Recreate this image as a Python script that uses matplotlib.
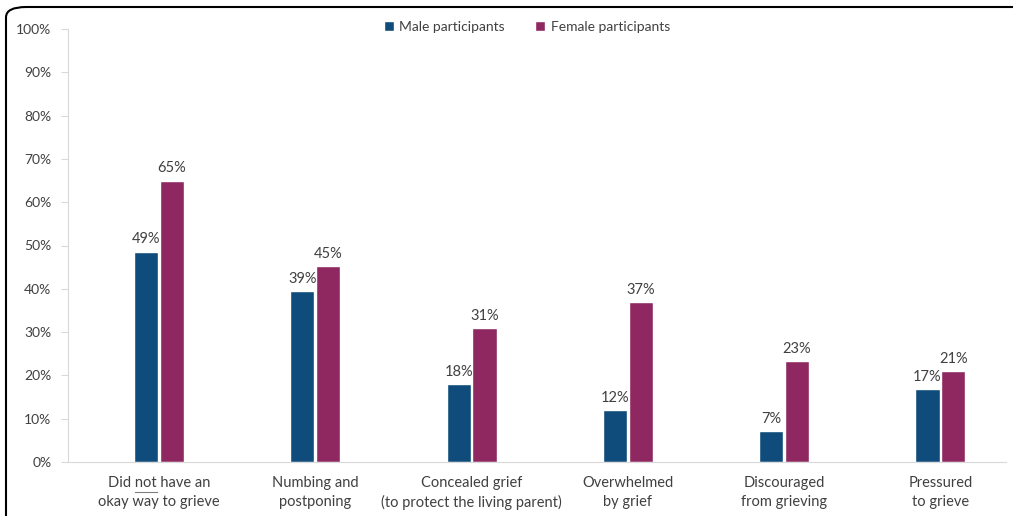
import matplotlib
matplotlib.use("Agg")
import matplotlib.pyplot as plt
import numpy as np
from matplotlib.patches import FancyBboxPatch
from matplotlib.lines import Line2D

plt.rcParams['font.family'] = ['Lato', 'DejaVu Sans']

categories = ["Did not have an\nokay way to grieve", "Numbing and\npostponing",
              "Concealed grief\n(to protect the living parent)", "Overwhelmed\nby grief",
              "Discouraged\nfrom grieving", "Pressured\nto grieve"]
male = [48.6, 39.4, 17.9, 11.9, 7.2, 16.8]
female = [65.0, 45.3, 31.0, 37.0, 23.3, 21.0]
male_labels = ["49%", "39%", "18%", "12%", "7%", "17%"]
female_labels = ["65%", "45%", "31%", "37%", "23%", "21%"]
yticks = [0, 10, 20, 30, 40, 50, 60, 70, 80, 90, 100]

blue = "#0f4c7c"
plum = "#8f2860"
txt = "#404040"
grey = "#d9d9d9"

fig = plt.figure(figsize=(10.13, 5.16), dpi=100)
ax = fig.add_axes([68/1013, 54/516, 938/1013, 433/516])

x = np.arange(len(categories))
w = 0.155
off = 0.083
b1 = ax.bar(x - off, male, w, color=blue, edgecolor="white", linewidth=1, label="Male participants")
b2 = ax.bar(x + off, female, w, color=plum, edgecolor="white", linewidth=1, label="Female participants")
for rects, labs in ((b1, male_labels), (b2, female_labels)):
    for r, l in zip(rects, labs):
        ax.text(r.get_x() + r.get_width()/2, r.get_height() + 1.2, l,
                ha="center", va="bottom", fontsize=10.5, color=txt)

ax.set_xlim(-0.583, 5.42)
ax.set_ylim(0, 100)
ax.set_yticks(yticks)
ax.set_yticklabels([f"{v}%" for v in yticks])
ax.set_xticks(x)
ax.set_xticklabels(categories, linespacing=1.45)
ax.tick_params(axis="y", colors=grey, labelcolor=txt, labelsize=10, length=5, pad=7)
ax.tick_params(axis="x", length=0, labelcolor=txt, labelsize=10.5, pad=10)
for s in ("top", "right"):
    ax.spines[s].set_visible(False)
ax.spines["left"].set_color(grey)
ax.spines["bottom"].set_color(grey)

ax.legend(loc="center", bbox_to_anchor=(527/1013, 1 - 27/516), bbox_transform=fig.transFigure,
          ncol=2, frameon=False, fontsize=10, handlelength=0.7, handleheight=0.7,
          columnspacing=2.2, handletextpad=0.4, labelcolor=txt)

# underline "not"
fig.canvas.draw()
r = fig.canvas.get_renderer()
lab = ax.get_xticklabels()[0]
bb = lab.get_window_extent(r)
def tw(s):
    t = fig.text(0, 0, s, fontsize=10.5)
    e = t.get_window_extent(r)
    t.remove()
    return e.width
line_w = tw("Did not have an")
x0 = (bb.x0 + bb.x1)/2 - line_w/2 + tw("Did ")
x1 = x0 + tw("not")
yl = bb.y1 - 16
fig.add_artist(Line2D([x0/1013, x1/1013], [yl/516, yl/516], transform=fig.transFigure,
                      color="#7f7f7f", lw=0.8))

fig.add_artist(FancyBboxPatch((6/1013, -0.05), 1.1, 1.05 - 7/516,
                              boxstyle="round,pad=0,rounding_size=0.02",
                              transform=fig.transFigure, fill=False,
                              edgecolor="black", linewidth=1.5))

fig.savefig("out.png", dpi=100)
